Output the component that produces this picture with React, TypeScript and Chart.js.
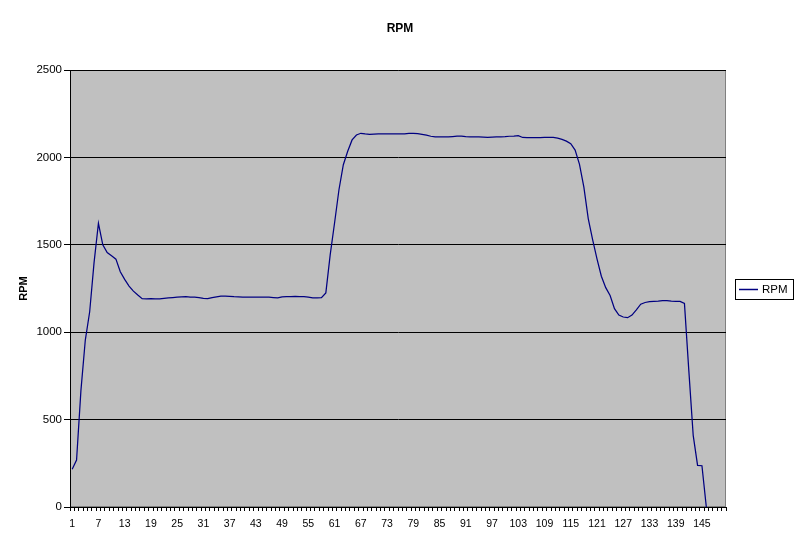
import { useEffect, useRef } from 'react';
import { Chart, registerables } from 'chart.js';

Chart.register(...registerables);

// Categories 1..150 (category index labels)
const categories: string[] = Array.from({ length: 150 }, (_, i) => String(i + 1));

const seriesName = 'RPM';
const chartTitle = 'RPM';
const yAxisTitle = 'RPM';

// RPM values (points 1..146)
const rpm: number[] = [
  216, 269, 667, 955, 1117, 1398, 1623, 1500, 1456, 1437,
  1418, 1346, 1302, 1264, 1235, 1213, 1192, 1190, 1192, 1190,
  1190, 1193, 1196, 1198, 1200, 1202, 1203, 1200, 1200, 1198,
  1194, 1192, 1198, 1202, 1206, 1206, 1205, 1203, 1202, 1201,
  1201, 1200, 1200, 1200, 1200, 1200, 1198, 1196, 1202, 1203,
  1204, 1205, 1204, 1203, 1200, 1196, 1196, 1198, 1225, 1444,
  1626, 1815, 1958, 2035, 2100, 2128, 2138, 2134, 2132, 2133,
  2134, 2134, 2134, 2134, 2134, 2134, 2135, 2137, 2138, 2136,
  2132, 2128, 2121, 2117, 2117, 2117, 2117, 2119, 2121, 2121,
  2119, 2118, 2117, 2117, 2116, 2115, 2116, 2117, 2118, 2119,
  2121, 2122, 2124, 2114, 2113, 2113, 2113, 2113, 2114, 2115,
  2115, 2110, 2103, 2093, 2078, 2042, 1960, 1830, 1650, 1530,
  1420, 1320, 1255, 1210, 1135, 1098, 1087, 1083, 1098, 1128,
  1160, 1170, 1175, 1177, 1178, 1180, 1180, 1178, 1177, 1176,
  1165, 780, 410, 238, 236, 0,
];

const yTicks: number[] = [0, 500, 1000, 1500, 2000, 2500];
const xLabelStep = 6;

const LINE_COLOR = '#000080';
const FONT = "'Liberation Sans', Arial, sans-serif";

export default function App() {
  const ref = useRef<HTMLCanvasElement>(null);

  useEffect(() => {
    if (!ref.current) return;

    const plotBg = {
      id: 'plotBg',
      beforeDraw(chart: any) {
        const { ctx, chartArea: a } = chart;
        ctx.save();
        ctx.fillStyle = '#C0C0C0';
        ctx.fillRect(a.left, a.top, a.right - a.left, a.bottom - a.top);
        ctx.strokeStyle = '#808080';
        ctx.lineWidth = 1;
        ctx.strokeRect(a.left + 0.5, a.top + 0.5, a.right - a.left - 1, a.bottom - a.top - 1);
        ctx.restore();
      },
    };

    const boxLegend = {
      id: 'boxLegend',
      afterDraw(chart: any) {
        const { ctx, chartArea: a } = chart;
        ctx.save();
        ctx.font = `11.5px ${FONT}`;
        const tw = ctx.measureText(seriesName).width;
        const left = a.right + 9;
        const w = 27 + tw + 5;
        const h = 20;
        const cy = (a.top + a.bottom) / 2 + 0.5;
        const top = Math.round(cy - h / 2) + 0.5;
        ctx.fillStyle = '#fff';
        ctx.fillRect(left, top, w, h);
        ctx.strokeStyle = '#000';
        ctx.lineWidth = 1;
        ctx.strokeRect(Math.round(left) + 0.5, top, Math.round(w), h);
        ctx.strokeStyle = LINE_COLOR;
        ctx.lineWidth = 1.5;
        ctx.beginPath();
        ctx.moveTo(left + 4, top + h / 2);
        ctx.lineTo(left + 23, top + h / 2);
        ctx.stroke();
        ctx.fillStyle = '#000';
        ctx.textBaseline = 'middle';
        ctx.textAlign = 'left';
        ctx.fillText(seriesName, left + 27, top + h / 2 + 0.5);
        ctx.restore();
      },
    };

    const chart = new Chart(ref.current, {
      type: 'line',
      data: {
        labels: categories,
        datasets: [
          {
            label: seriesName,
            data: rpm,
            borderColor: LINE_COLOR,
            backgroundColor: LINE_COLOR,
            borderWidth: 1.25,
            pointRadius: 0,
            pointHoverRadius: 0,
            tension: 0,
            fill: false,
          },
        ],
      },
      options: {
        animation: false,
        responsive: false,
        events: [],
        layout: { padding: 0 },
        font: { family: FONT },
        plugins: {
          legend: { display: false },
          tooltip: { enabled: false },
          title: {
            display: true,
            text: chartTitle,
            color: '#000',
            font: { family: FONT, size: 12, weight: 'bold' },
            padding: { top: 21, bottom: 34.6 },
          },
        },
        scales: {
          x: {
            type: 'category',
            offset: true,
            grid: {
              offset: true,
              drawOnChartArea: false,
              drawTicks: true,
              tickLength: 4,
              color: '#000',
            },
            border: { color: '#000', width: 1 },
            ticks: {
              autoSkip: false,
              maxRotation: 0,
              minRotation: 0,
              padding: 7,
              color: '#000',
              font: { family: FONT, size: 10.5 },
              callback: function (this: any, v: any, i: number) {
                return i % xLabelStep === 0 ? this.getLabelForValue(v) : '';
              },
            },
            afterFit(scale: any) {
              scale.height = 40;
            },
          },
          y: {
            min: yTicks[0],
            max: yTicks[yTicks.length - 1],
            afterBuildTicks(scale: any) {
              scale.ticks = yTicks.map((v) => ({ value: v }));
            },
            grid: { color: '#000', tickLength: 6, lineWidth: 1 },
            border: { color: '#000', width: 1 },
            ticks: {
              padding: 2,
              color: '#000',
              font: { family: FONT, size: 11.5 },
              callback: (v: any) => String(v),
            },
            title: {
              display: true,
              text: yAxisTitle,
              color: '#000',
              font: { family: FONT, size: 11, weight: 'bold' },
              padding: { top: 17, bottom: 0 },
            },
            afterFit(scale: any) {
              scale.width = 70;
            },
          },
          // empty right-hand band that reserves room for the legend box
          legendSpace: {
            type: 'linear',
            position: 'right',
            display: true,
            grid: { display: false, drawTicks: false },
            border: { display: false },
            ticks: { display: false },
            afterFit(scale: any) {
              scale.width = 74;
            },
          },
        },
      },
      plugins: [plotBg, boxLegend],
    } as any);

    return () => chart.destroy();
  }, []);

  return (
    <div style={{ position: 'fixed', left: 0, top: 0, width: 800, height: 547, background: '#fff' }}>
      <canvas ref={ref} width={800} height={547} style={{ display: 'block' }} />
    </div>
  );
}
